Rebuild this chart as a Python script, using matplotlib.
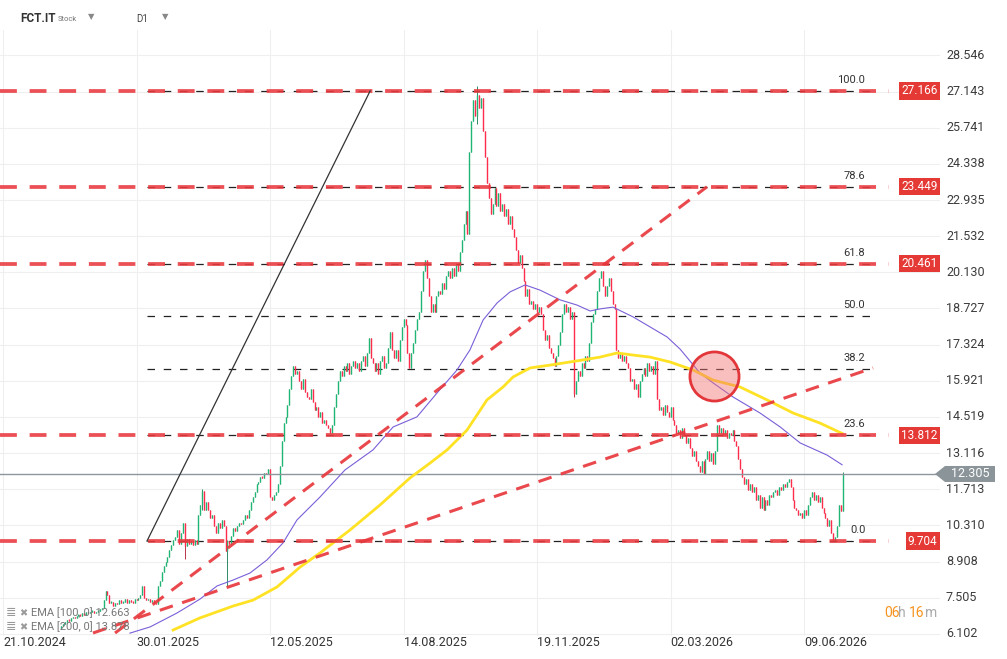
import numpy as np
import matplotlib
matplotlib.use("Agg")
import matplotlib.pyplot as plt
from matplotlib.patches import Polygon
from matplotlib.transforms import IdentityTransform

plt.rcParams['font.family'] = ['Roboto', 'DejaVu Sans']

# ---- data (x = trading-day index, 0 = 21.10.2024) ----
first_idx = 30
first_open = 6.3
closes = [
    6.4, 6.5, 6.55, 6.65, 6.6, 6.7, 6.75, 6.7, 6.8, 6.85, 6.8, 6.9, 6.85, 6.95, 6.9, 6.95, 7.0, 6.9, 6.95, 7.0, 7.05, 7.1,
    7.4, 7.75, 7.6, 7.3, 7.35, 7.2, 7.3, 7.25, 7.4, 7.3, 7.35, 7.45, 7.3, 7.4, 7.35, 7.3, 7.45, 7.4, 7.5, 7.6, 7.95, 7.5,
    7.4, 7.45, 7.35, 7.4, 7.3, 7.25,
    7.95, 8.15, 8.5, 8.75, 8.9, 9.1, 9.35, 9.55, 9.75, 9.85, 10.15, 9.6, 10.0, 10.4, 9.5, 9.8, 9.6, 9.7, 9.55, 9.75, 9.6,
    10.7, 11.1, 11.65, 10.9, 11.2, 10.9, 10.6, 10.7, 10.3, 10.0, 10.4, 10.2, 10.5, 10.3, 9.3, 9.7,
    9.6, 9.9, 10.2, 10.1, 10.3, 10.4, 10.35, 10.5, 10.7, 10.6, 10.9, 11.2, 11.4, 11.6, 11.9, 12.0, 12.2, 12.15, 12.35,
    12.3, 12.5, 11.4, 11.3, 11.5, 11.6, 11.9, 12.6, 13.6, 14.3, 14.5, 15.0, 15.6, 16.1, 16.5, 16.2, 16.3, 15.9, 15.6,
    16.0, 15.5, 15.3, 15.2, 15.6, 15.1, 14.8, 14.9, 14.5, 14.7, 14.3, 14.4, 14.2, 14.1, 13.9, 14.2,
    14.9, 15.4, 15.9, 16.3, 16.1, 16.5, 16.3, 16.6, 16.2, 16.5, 16.7, 16.4, 16.6, 16.3, 16.7, 16.9, 16.5, 17.0, 17.6,
    16.8, 16.6, 16.3, 16.6, 16.2, 16.7, 16.9, 16.4, 16.6, 17.2, 17.8, 17.1, 16.8, 17.1, 16.7, 17.5, 18.0, 18.3, 18.1,
    17.0, 16.4, 17.0, 17.4, 17.9, 18.3, 18.6, 19.4, 20.2, 20.6, 19.9, 19.2, 18.6, 18.9, 18.6, 19.2, 19.4, 19.3, 19.7,
    19.5, 20.0, 20.2, 19.9, 20.3, 20.0, 20.4, 20.2, 20.9, 21.4, 22.0, 22.5, 21.6,
    24.8, 26.0, 26.8, 26.2, 27.0, 26.5, 26.9, 25.6, 24.6, 23.6, 23.0, 22.4, 22.8, 23.4, 22.7, 23.2, 22.5, 22.8, 22.3,
    22.6, 22.0, 22.3, 21.8, 21.5, 21.0, 20.5, 20.8, 20.3, 19.8, 19.2, 19.5, 18.9, 19.0, 18.7, 18.9, 18.6, 18.8, 18.5,
    17.9, 17.5, 17.7, 17.2, 17.0, 16.8, 16.5, 16.9, 17.3, 17.8, 18.5, 18.9, 18.6, 18.8, 18.3, 18.6,
    15.4, 15.9, 16.3, 16.1, 16.6, 16.4, 16.9, 16.7, 17.4, 18.2, 18.5, 18.7, 19.4, 19.9, 20.2, 19.6, 19.2, 19.6, 19.9,
    19.4, 18.9, 18.7, 17.1, 16.8, 17.0, 16.7, 16.9, 16.6, 16.4, 15.9, 16.0, 15.6, 15.8, 15.3, 15.9, 16.2, 16.4, 16.1,
    16.6, 16.3, 16.5, 16.2, 16.7,
    15.2, 14.8, 14.9, 14.6, 15.0, 14.7, 14.5, 14.9, 14.4, 14.2, 13.9, 14.0, 13.7, 14.1, 13.8, 13.5, 13.7, 13.3, 13.0,
    13.2, 12.8, 12.6, 12.4, 12.8, 12.3, 12.9, 13.2, 12.8, 13.1, 12.7, 13.2, 14.2, 13.9, 14.1, 13.8, 14.0, 13.7, 13.9,
    13.8, 14.0, 13.6, 13.4, 12.9, 12.5, 12.2, 11.9, 12.1, 11.7, 11.9, 11.6, 11.8, 11.3, 11.5, 11.0, 11.4, 10.9, 11.3,
    11.1, 11.5, 11.4, 11.6, 11.7, 11.5, 11.8, 11.7, 11.9, 11.8, 12.0, 12.1, 11.8, 11.3, 11.0, 10.9, 10.7, 10.8, 10.6,
    10.9, 10.7, 11.1, 11.4, 11.6, 11.3, 11.5, 11.2, 11.4, 11.0, 10.8, 10.6, 10.3, 10.5, 10.0, 9.75, 9.85, 10.3, 11.1,
    10.85, 12.305,
]
# long wicks visible on the chart: index -> (low, high)
wick_extra = {94: (9.0, 10.4), 103: (10.9, 11.72), 116: (7.9, 9.75), 245: (25.9, 27.36),
              295: (15.3, 18.6), 434: (11.6, 12.4)}

ema100_x = [65.6, 76.0, 89.9, 101.8, 110.6, 118.9, 127.6, 136.4, 144.7, 151.9, 163.8, 176.7, 191.2, 201.6, 213.9,
            224.3, 234.6, 241.3, 248.1, 255.3, 262.0, 269.8, 277.5, 287.9, 296.6, 303.4, 308.5, 315.2, 325.6, 334.4,
            343.2, 349.9, 360.2, 366.9, 377.3, 391.2, 401.6, 411.9, 425.8, 433.6]
ema100_y = [6.13, 6.37, 6.91, 7.45, 7.96, 8.19, 8.46, 8.97, 9.63, 10.52, 11.41, 12.46, 13.24, 14.13, 14.52,
            15.45, 16.34, 17.12, 18.28, 18.94, 19.37, 19.64, 19.44, 19.06, 18.86, 18.63, 18.71, 18.78, 18.40, 18.01,
            17.62, 17.15, 16.22, 15.84, 15.29, 14.67, 14.13, 13.51, 13.04, 12.663]
ema200_x = [87.9, 101.8, 118.9, 129.2, 141.6, 153.5, 163.8, 179.3, 194.8, 210.3, 220.7, 229.5, 239.8, 250.1, 258.4,
            263.6, 272.4, 282.7, 299.7, 308.5, 317.3, 325.6, 334.4, 344.7, 356.6, 366.9, 380.9, 394.8, 408.3, 422.2,
            433.6]
ema200_y = [6.25, 6.72, 7.18, 7.41, 7.92, 8.69, 9.24, 10.13, 11.10, 12.15, 12.73, 13.24, 14.01, 15.18, 15.68,
            16.07, 16.42, 16.53, 16.73, 16.84, 17.00, 16.92, 16.84, 16.65, 16.34, 15.95, 15.68, 15.18, 14.67, 14.28,
            13.878]

fib_pct = ["100.0", "78.6", "61.8", "50.0", "38.2", "23.6", "0.0"]
fib_val = [27.166, 23.449, 20.461, 18.435, 16.375, 13.812, 9.704]
fib_boxed = [True, True, True, False, False, True, True]
fib_span = (74.4, 449.6)

trend_a = ([57.9, 363.8], [6.134, 23.449])
trend_b = ([46.5, 449.6], [6.134, 16.42])
fib_diag = ([74.4, 189.7], [9.704, 27.166])

last_price = 12.305
ytick_vals = [28.546, 27.143, 25.741, 24.338, 22.935, 21.532, 20.130, 18.727, 17.324, 15.921, 14.519, 13.116,
              11.713, 10.310, 8.908, 7.505, 6.102]
date_idx = [0, 69, 138, 207, 276, 345, 414]
date_lbl = ["21.10.2024", "30.01.2025", "12.05.2025", "14.08.2025", "19.11.2025", "02.03.2026", "09.06.2026"]
circle_at = (367.4, 16.11)

W, H = 1007, 659
fig = plt.figure(figsize=(W / 100, H / 100), dpi=100)
ax = fig.add_axes([0, (H - 636) / H, 940 / W, 606 / H])
ax.set_xlim(-1.55, 484.2)
ax.set_ylim(6.018, 29.533)
for s in ax.spines.values():
    s.set_visible(False)
ax.set_xticks([])
ax.set_yticks([])

# grid
for v in ytick_vals:
    ax.axhline(v, color='#efefef', lw=0.8, zorder=0)
for d in date_idx:
    ax.axvline(d, color='#efefef', lw=0.8, zorder=0)

# fib thin black dashes
for v in fib_val:
    ax.plot(fib_span, [v, v], color='#222222', lw=0.9, ls=(0, (6.0, 7.0)), zorder=1)

# candles
c = np.array(closes)
x = np.arange(first_idx, first_idx + len(c))
o = np.concatenate([[first_open], c[:-1]])
lo = np.minimum(o, c)
hi = np.maximum(o, c)
for k, (l, h) in wick_extra.items():
    j = k - first_idx
    lo[j] = min(lo[j], l)
    hi[j] = max(hi[j], h)
up = c >= o
ax.vlines(x[up], lo[up], hi[up], colors='#0b7a4b', lw=0.6, zorder=2)
ax.vlines(x[~up], lo[~up], hi[~up], colors='#b0142f', lw=0.6, zorder=2)
b_lo = np.minimum(o, c)
b_hi = np.maximum(np.maximum(o, c), b_lo + 0.06)
ax.vlines(x[up], b_lo[up], b_hi[up], colors='#1fb574', lw=1.0, zorder=2.1)
ax.vlines(x[~up], b_lo[~up], b_hi[~up], colors='#ff2d4b', lw=1.0, zorder=2.1)

# EMAs
ax.plot(ema100_x, ema100_y, color='#7a5fd8', lw=0.8, zorder=3)
ax.plot(ema200_x, ema200_y, color='#ffe224', lw=2.0, zorder=3)

# last price line
ax.axhline(last_price, color='#8c969c', lw=1.0, zorder=2.5)

# thick red fib levels
for v, boxed in zip(fib_val, fib_boxed):
    if boxed:
        ax.plot([-1.55, 458], [v, v], color='#e8383d', lw=2.7, alpha=0.88,
                ls=(0, (4.5, 3.4)), solid_capstyle='butt', zorder=4)

# trend lines
ax.plot(*trend_a, color='#e8383d', lw=2.2, ls=(0, (4.5, 3.2)), alpha=0.92, zorder=4)
ax.plot(*trend_b, color='#e8383d', lw=2.2, ls=(0, (4.5, 3.2)), alpha=0.92, zorder=4)
ax.plot(*fib_diag, color='#333333', lw=0.9, zorder=4)

# highlight circle
ax.scatter([circle_at[0]], [circle_at[1]], s=1250, facecolor=(0.95, 0.45, 0.45, 0.45),
           edgecolor='#e2363a', linewidth=2, zorder=5)

# fib labels and value boxes
for p, v, boxed in zip(fib_pct, fib_val, fib_boxed):
    ax.annotate(p, (fib_span[1] - 4, v), xytext=(0, 8), textcoords='offset points',
                ha='right', va='center', fontsize=8, color='#333333', zorder=6)
    if boxed:
        ax.text(937.5 / 940, v, f"{v:.3f}", transform=ax.get_yaxis_transform(), ha='right', va='center',
                fontsize=8.5, color='white', zorder=7,
                bbox=dict(boxstyle='square,pad=0.18', fc='#e53935', ec='none'))

# y labels
for v in ytick_vals:
    ax.text(946 / 940, v, f"{v:.3f}", transform=ax.get_yaxis_transform(), ha='left', va='center',
            fontsize=9, color='#3c3c3c', clip_on=False)

# date labels
for d, lbl in zip(date_idx, date_lbl):
    ax.text(d, -0.0105, lbl, transform=ax.get_xaxis_transform(), ha='left', va='center',
            fontsize=9, color='#333333', clip_on=False)

# last price tag
fig.canvas.draw()
py = ax.transData.transform((0, last_price))[1]
tag = Polygon([(935, py), (945, py + 8), (995, py + 8), (995, py - 8), (945, py - 8)],
              closed=True, fc='#8a9499', ec='none', transform=IdentityTransform(), zorder=8)
fig.add_artist(tag)
fig.text(970 / W, py / H, f"{last_price:.3f}", ha='center', va='center', fontsize=9, color='white', zorder=9)

# header
fig.text(20 / W, 1 - 18 / H, "FCT.IT", fontsize=8.5, fontweight='bold', color='#333333', va='center')
fig.text(58 / W, 1 - 19 / H, "Stock", fontsize=5.5, color='#777777', va='center')
fig.text(88 / W, 1 - 17 / H, "\u25bc", fontsize=6, color='#888888', va='center', family='DejaVu Sans')
fig.text(136 / W, 1 - 19 / H, "D1", fontsize=7, color='#444444', va='center')
fig.text(162 / W, 1 - 17 / H, "\u25bc", fontsize=6, color='#888888', va='center', family='DejaVu Sans')

# EMA legend
for yy, txt in [(613, "EMA [100, 0] 12.663"), (627, "EMA [200, 0] 13.878")]:
    fig.text(6 / W, 1 - yy / H, "\u2263", fontsize=9, color='#9a9a9a', va='center', family='DejaVu Sans')
    fig.text(19 / W, 1 - yy / H, "\u2716", fontsize=7, color='#9a9a9a', va='center', family='DejaVu Sans')
    fig.text(31 / W, 1 - yy / H, txt, fontsize=8, color='#777777', va='center')

# timer
fig.text(884 / W, 1 - 613 / H, "06", fontsize=10, color='#f7931e', va='center')
fig.text(898 / W, 1 - 613 / H, "h", fontsize=10, color='#aaaaaa', va='center')
fig.text(909 / W, 1 - 613 / H, "16", fontsize=10, color='#f7931e', va='center')
fig.text(925 / W, 1 - 613 / H, "m", fontsize=10, color='#aaaaaa', va='center')

fig.savefig("out.png", dpi=100)
